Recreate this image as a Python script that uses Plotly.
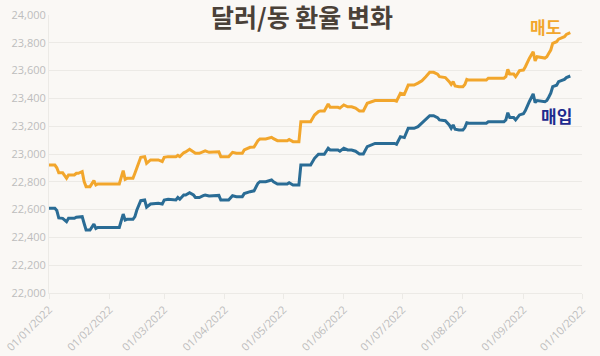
import plotly.graph_objects as go

sell_dates = ["2022-01-01","2022-01-04","2022-01-05","2022-01-06","2022-01-08","2022-01-09","2022-01-10","2022-01-11","2022-01-14","2022-01-15","2022-01-16","2022-01-18","2022-01-19","2022-01-20","2022-01-22","2022-01-24","2022-01-25","2022-01-26","2022-02-06","2022-02-08","2022-02-09","2022-02-10","2022-02-13","2022-02-14","2022-02-15","2022-02-17","2022-02-19","2022-02-20","2022-02-22","2022-02-26","2022-02-28","2022-03-01","2022-03-03","2022-03-07","2022-03-08","2022-03-09","2022-03-11","2022-03-12","2022-03-14","2022-03-15","2022-03-16","2022-03-17","2022-03-19","2022-03-21","2022-03-22","2022-03-24","2022-03-27","2022-03-29","2022-03-30","2022-04-03","2022-04-05","2022-04-07","2022-04-10","2022-04-11","2022-04-14","2022-04-16","2022-04-18","2022-04-19","2022-04-22","2022-04-25","2022-04-26","2022-04-28","2022-05-03","2022-05-04","2022-05-06","2022-05-09","2022-05-10","2022-05-15","2022-05-17","2022-05-19","2022-05-20","2022-05-22","2022-05-24","2022-05-25","2022-05-29","2022-05-30","2022-06-01","2022-06-03","2022-06-05","2022-06-07","2022-06-09","2022-06-11","2022-06-13","2022-06-15","2022-06-17","2022-06-27","2022-06-28","2022-06-30","2022-07-02","2022-07-04","2022-07-07","2022-07-09","2022-07-11","2022-07-13","2022-07-15","2022-07-17","2022-07-19","2022-07-20","2022-07-23","2022-07-25","2022-07-26","2022-07-27","2022-07-28","2022-07-30","2022-08-01","2022-08-02","2022-08-03","2022-08-04","2022-08-13","2022-08-14","2022-08-22","2022-08-23","2022-08-24","2022-08-25","2022-08-27","2022-08-28","2022-08-30","2022-09-01","2022-09-02","2022-09-04","2022-09-06","2022-09-07","2022-09-08","2022-09-12","2022-09-13","2022-09-14","2022-09-15","2022-09-16","2022-09-18","2022-09-19","2022-09-22","2022-09-23","2022-09-25"]

sell_values = [22920,22920,22901,22865,22865,22842,22825,22849,22849,22861,22861,22873,22801,22765,22765,22808,22777,22784,22784,22880,22818,22825,22825,22861,22897,22976,22981,22933,22957,22957,22945,22976,22981,22981,22990,22981,23009,23015,23034,23025,23016,23005,23005,23016,23022,23012,23012,23016,22981,22981,23012,23005,23005,23029,23048,23050,23096,23108,23108,23120,23110,23096,23096,23105,23089,23089,23232,23232,23280,23305,23310,23310,23360,23336,23336,23330,23353,23340,23340,23330,23310,23310,23365,23375,23384,23384,23380,23437,23430,23496,23496,23510,23527,23556,23588,23588,23575,23556,23550,23520,23500,23520,23489,23484,23484,23500,23537,23532,23532,23545,23545,23556,23609,23575,23575,23556,23600,23604,23628,23688,23736,23670,23700,23690,23700,23724,23748,23796,23808,23826,23844,23860,23873]

buy_dates = sell_dates

buy_values = [22609,22609,22593,22540,22537,22525,22513,22537,22537,22545,22545,22549,22500,22453,22453,22496,22465,22472,22472,22568,22525,22530,22530,22549,22597,22664,22669,22617,22640,22645,22640,22669,22674,22669,22687,22675,22705,22705,22722,22712,22705,22687,22687,22700,22705,22698,22698,22702,22669,22669,22700,22693,22693,22715,22729,22735,22789,22801,22801,22813,22800,22784,22784,22793,22777,22777,22921,22921,22969,22998,22998,22998,23041,23029,23029,23020,23041,23029,23029,23020,23000,23000,23053,23065,23076,23076,23070,23125,23118,23185,23185,23197,23221,23245,23276,23276,23262,23245,23240,23209,23185,23209,23178,23173,23173,23190,23225,23221,23221,23232,23232,23245,23297,23262,23262,23245,23281,23290,23312,23376,23432,23370,23385,23376,23385,23410,23438,23484,23495,23520,23537,23550,23561]

tick_dates = ["2022-01-01","2022-02-01","2022-03-01","2022-04-01","2022-05-01","2022-06-01","2022-07-01","2022-08-01","2022-09-01","2022-10-01"]
tick_labels = ["01/01/2022","01/02/2022","01/03/2022","01/04/2022","01/05/2022","01/06/2022","01/07/2022","01/08/2022","01/09/2022","01/10/2022"]
y_ticks = [22000,22200,22400,22600,22800,23000,23200,23400,23600,23800,24000]

title_text = "달러/동 환율 변화"
sell_name = "매도"
buy_name = "매입"

ORANGE = "#F2A62C"
BLUE = "#2A6C95"
NAVY = "#1E2B8E"
BG = "#FAF8F5"
GRID = "#ECEAE6"
TICK = "#BDBDBD"

fig = go.Figure()
fig.add_trace(go.Scatter(x=sell_dates, y=sell_values, mode="lines", name=sell_name,
                         line=dict(color=ORANGE, width=3)))
fig.add_trace(go.Scatter(x=buy_dates, y=buy_values, mode="lines", name=buy_name,
                         line=dict(color=BLUE, width=3)))

fig.update_layout(
    width=600, height=356,
    margin=dict(l=49, r=18, t=15, b=63),
    paper_bgcolor=BG, plot_bgcolor=BG,
    showlegend=False,
    font=dict(family="Open Sans, Noto Sans, sans-serif", color=TICK, size=11),
    xaxis=dict(type="date", range=["2022-01-01", "2022-10-01"], automargin=False,
               tickvals=tick_dates, ticktext=tick_labels, tickangle=-45,
               showgrid=False, showline=True, linecolor=GRID, linewidth=1,
               ticks="outside", ticklen=5, tickcolor=GRID,
               tickfont=dict(size=11, color=TICK), zeroline=False),
    yaxis=dict(range=[22000, 24000], tickvals=y_ticks, tickformat=",d", automargin=False,
               showgrid=True, gridcolor=GRID, gridwidth=1,
               showline=True, linecolor=GRID, ticks="", zeroline=False,
               tickfont=dict(size=11, color=TICK)),
    annotations=[
        dict(text=title_text, xref="paper", yref="paper", x=(302 - 49) / 533, y=1 - 1 / 278,
             showarrow=False, xanchor="center", yanchor="middle", borderpad=0,
             font=dict(family="Noto Sans CJK KR", size=25, color="#4A4138", weight="bold")),
        dict(text=sell_name, xref="paper", yref="paper", x=0.931, y=0.958,
             showarrow=False, xanchor="center", yanchor="middle",
             font=dict(family="Noto Sans CJK KR", size=17, color=ORANGE, weight="bold")),
        dict(text=buy_name, xref="paper", yref="paper", x=0.953, y=0.64,
             showarrow=False, xanchor="center", yanchor="middle",
             font=dict(family="Noto Sans CJK KR", size=17, color=NAVY, weight="bold")),
    ],
)

fig.write_html("out.html", config={"displayModeBar": False},
               post_script="document.body.style.margin='0';document.body.style.overflow='hidden';")
